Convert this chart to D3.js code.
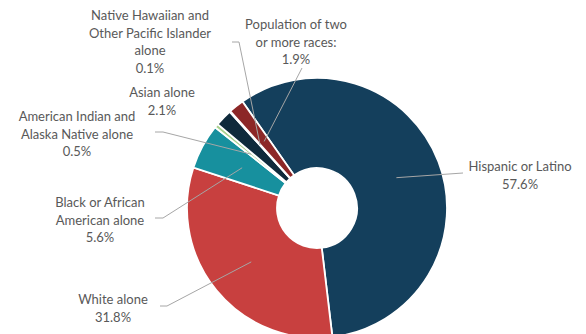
<!DOCTYPE html>
<html>
<head>
<meta charset="utf-8">
<script src="https://cdn.jsdelivr.net/npm/d3@7"></script>
<style>
  body { margin: 0; background: #fff; }
  text { font-family: Lato, "Open Sans", sans-serif; font-size: 13px; fill: #595959; }
</style>
</head>
<body>
<div id="donut"></div>
<script>
// Data, clockwise from the top-left
const categories = ["Hispanic or Latino", "White alone", "Black or African American alone",
  "American Indian and Alaska Native alone", "Asian alone",
  "Native Hawaiian and Other Pacific Islander alone", "Population of two or more races:"];
const shares = [57.6, 31.8, 5.6, 0.5, 2.1, 0.1, 1.9];
const shareLabels = ["57.6%", "31.8%", "5.6%", "0.5%", "2.1%", "0.1%", "1.9%"];
const colors = ["#143f5c", "#c8403f", "#17909e", "#a9d18e", "#0f2a3b", "#bfbfbf", "#8c2727"];

// label lines as they wrap in the picture
const labelLines = [
  ["Hispanic or Latino"],
  ["White alone"],
  ["Black or African", "American alone"],
  ["American Indian and", "Alaska Native alone"],
  ["Asian alone"],
  ["Native Hawaiian and", "Other Pacific Islander", "alone"],
  ["Population of two", "or more races:"]
];

const width = 586, height = 334;
const cx = 317, cy = 208;
const outer = 130, inner = 40;

// label layout: text centre, first line y, leader elbow and end
const layout = [
  { x: 520, y: 166, pts: [[463, 173]] },
  { x: 113, y: 299, pts: [[167, 306], [160, 306]] },
  { x: 100, y: 202, pts: [[163, 218], [155, 218]] },
  { x: 77, y: 116, pts: [[163, 132], [155, 132]] },
  { x: 162, y: 92, pts: null },
  { x: 150, y: 15, pts: [[239, 42], [232, 42]] },
  { x: 296, y: 24, pts: [[302, 68]] }
];

const svg = d3.select("#donut")
  .append("svg")
  .attr("width", width)
  .attr("height", height);

const g = svg.append("g")
  .attr("transform", "translate(" + cx + "," + cy + ")");

const start = -35 * Math.PI / 180;
const pie = d3.pie()
  .sort(null)
  .startAngle(start)
  .endAngle(start + 2 * Math.PI)
  .value(function(d) { return d; });

const arcs = pie(shares);

const arc = d3.arc().innerRadius(inner).outerRadius(outer);
const leaderArc = d3.arc().innerRadius(85).outerRadius(85);

g.selectAll("path")
  .data(arcs)
  .enter()
  .append("path")
  .attr("d", arc)
  .style("fill", function(d, i) { return colors[i]; })
  .style("stroke", "white")
  .style("stroke-width", 1.8);

// leader lines
const line = d3.line();
arcs.forEach(function(d, i) {
  const lay = layout[i];
  if (!lay.pts) return;
  const p0 = leaderArc.centroid(d);
  const pts = [[p0[0] + cx, p0[1] + cy]].concat(lay.pts);
  svg.append("path")
    .attr("d", line(pts))
    .style("fill", "none")
    .style("stroke", "#a6a6a6")
    .style("stroke-width", 1);
});

// labels
labelLines.forEach(function(lines, i) {
  const lay = layout[i];
  const t = svg.append("text")
    .attr("text-anchor", "middle")
    .attr("dominant-baseline", "central");
  lines.concat([shareLabels[i]]).forEach(function(s, j) {
    t.append("tspan")
      .attr("x", lay.x)
      .attr("y", lay.y + j * 17.7)
      .text(s);
  });
});
</script>
</body>
</html>
